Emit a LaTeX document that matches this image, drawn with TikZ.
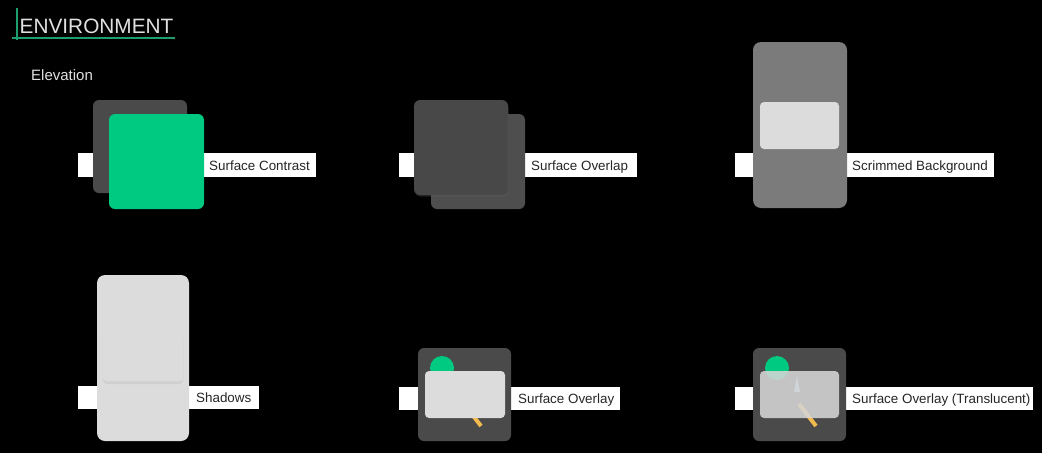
\documentclass[tikz,border=0pt]{standalone}
\usepackage{fontspec}
\setmainfont{Liberation Sans}
\begin{document}
\begin{tikzpicture}[x=1pt,y=-1pt,
  bar/.style={fill=white,draw=none},
  lbl/.style={anchor=base west,inner sep=0pt,text=black!85,font=\fontsize{13.4}{15}\selectfont},
  darksq/.style={fill=surfdark,draw=none,rounded corners=6pt},
  tall/.style={draw=none,rounded corners=8pt},
  card/.style={fill=cardgray,draw=none,rounded corners=4pt},
  stick/.style={draw=pencil,line width=4pt},
  tip/.style={fill=tipblue,draw=none}]
\definecolor{surfdark}{HTML}{4A4A4A}
\definecolor{greensurf}{HTML}{00C982}
\definecolor{cardgray}{HTML}{DCDCDC}
\definecolor{scrim}{HTML}{7B7B7B}
\definecolor{pencil}{HTML}{F3BA4E}
\definecolor{tipblue}{HTML}{A9D6EE}
\definecolor{titlegreen}{HTML}{1E9E6E}
\useasboundingbox (0,0) rectangle (1042,453);
\fill[black] (0,0) rectangle (1042,453);
% title
\draw[titlegreen,line width=1.2pt] (17,8) -- (17,40);
\draw[titlegreen,line width=1.2pt] (12,38) -- (175,38);
\node[anchor=base west,inner sep=0pt,text=white!88!black,font=\fontsize{20.8}{22}\selectfont] (title) at (19.5,33) {ENVIRONMENT};
\node[anchor=base west,inner sep=0pt,text=white!88!black,font=\fontsize{15}{16}\selectfont] (elev) at (31,80) {Elevation};
% panel 1: surface contrast
\fill[bar] (78,153) rectangle (316,177);
\fill[darksq] (93,100) rectangle (187,193);
\fill[darksq,fill=greensurf] (109,114) rectangle (204,209);
\node[lbl] (l1) at (209,170) {Surface Contrast};
% panel 2: surface overlap
\fill[bar] (399,153) rectangle (637,177);
\fill[darksq,fill=surfdark!98!white] (431,114) rectangle (525,209);
\fill[darksq,fill=black!60,opacity=0.3] (414.5,101.5) rectangle (508.5,196.5);
\fill[darksq,fill=surfdark!97!black] (414,100) rectangle (508,195);
\node[lbl] (l2) at (531,170) {Surface Overlap};
% panel 3: scrimmed background
\fill[bar] (735,153) rectangle (994,177);
\fill[tall,fill=scrim] (753,42) rectangle (847,208);
\fill[card] (760,102) rectangle (839,149);
\node[lbl] (l3) at (852,170) {Scrimmed Background};
% panel 4: shadows
\fill[bar] (78,386) rectangle (259,409);
\fill[tall,fill=cardgray] (97,275) rectangle (189,441);
\fill[card,fill=black!22,opacity=0.7] (103,337) rectangle (183,384);
\fill[card,fill=black!16,opacity=0.6] (102.5,336) rectangle (183.5,383);
\fill[card] (103,334) rectangle (183,381);
\node[lbl] (l4) at (196,402.5) {Shadows};
% panel 5: surface overlay
\fill[bar] (399,387) rectangle (620,410);
\fill[darksq] (418,348) rectangle (511,441);
\fill[greensurf] (442,368) circle (12);
\fill[tip] (462,376) -- (465,392) -- (459,392) -- cycle;
\draw[stick] (464,404) -- (481,426);
\fill[card] (425,371) rectangle (505,418);
\node[lbl] (l5) at (518,403) {Surface Overlay};
% panel 6: surface overlay (translucent)
\fill[bar] (735,387) rectangle (1033,410);
\fill[darksq] (753,348) rectangle (846,441);
\fill[greensurf] (777,368) circle (12);
\fill[tip] (797,376) -- (800,392) -- (794,392) -- cycle;
\draw[stick] (799,404) -- (816,426);
\fill[card,fill=cardgray!97!black,opacity=0.88] (760,371) rectangle (839,418);
\node[lbl] (l6) at (852,403) {Surface Overlay (Translucent)};
\end{tikzpicture}
\end{document}
